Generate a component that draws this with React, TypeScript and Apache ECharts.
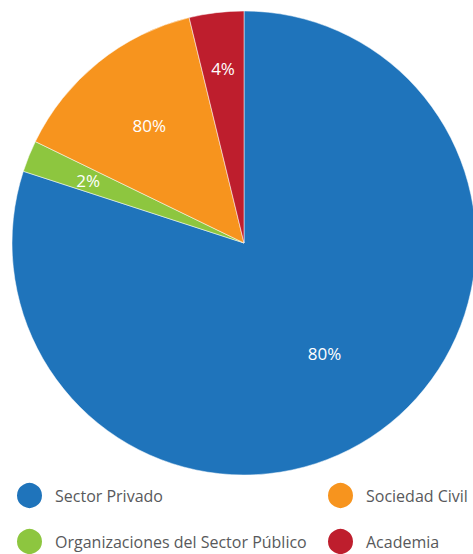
import React, { useEffect, useRef } from "react";
import * as echarts from "echarts";

const categories = ["Sector Privado", "Organizaciones del Sector Público", "Sociedad Civil", "Academia"];
const values = [80, 2.2, 14, 3.8];
const labelTexts = ["80%", "2%", "80%", "4%"];
const colors = ["#1F74BB", "#8DC63F", "#F7941E", "#BE1E2D"];
// radial distance of each label from the centre (px)
const labelRadii = [134, 165, 148, 173];
// legend grid slots: [left, top]
const legendSlots = [
  [15, 481],
  [15, 527],
  [326, 481],
  [326, 527],
];

export default function App() {
  const ref = useRef<HTMLDivElement>(null);
  useEffect(() => {
    if (!ref.current) return;
    const chart = echarts.init(ref.current, undefined, { renderer: "svg" });
    const center = [244, 243];
    const mainData = categories.map((name, i) => ({
      name,
      value: values[i],
      itemStyle: { color: colors[i] },
    }));
    const labelSeries = categories.map((_, k) => ({
      type: "pie" as const,
      center,
      radius: [labelRadii[k] - 10, labelRadii[k] + 10],
      startAngle: 90,
      clockwise: true,
      silent: true,
      legendHoverLink: false,
      itemStyle: { color: "transparent", borderWidth: 0 },
      emphasis: { disabled: true },
      labelLine: { show: false },
      data: categories.map((name, i) => ({
        name,
        value: values[i],
        itemStyle: { color: "rgba(0,0,0,0)" },
        label: {
          show: i === k,
          position: "inside",
          formatter: labelTexts[i],
          color: "#ffffff",
          fontSize: 17,
          fontFamily: "Open Sans",
        },
      })),
    }));
    const legends = categories.map((name, i) => ({
      data: [name],
      left: legendSlots[i][0],
      top: legendSlots[i][1],
      padding: 0,
      icon: "circle",
      itemWidth: 27,
      itemHeight: 27,
      selectedMode: false,
      textStyle: { color: "#58595B", fontSize: 16, fontFamily: "Open Sans", padding: [0, 0, 0, 7] },
    }));
    chart.setOption({
      animation: false,
      legend: legends,
      series: [
        {
          type: "pie",
          center,
          radius: [0, 232],
          startAngle: 90,
          clockwise: true,
          label: { show: false },
          labelLine: { show: false },
          itemStyle: { borderColor: "#ffffff", borderWidth: 0.5 },
          emphasis: { disabled: true },
          data: mainData,
        },
        ...labelSeries,
      ],
    });
    return () => chart.dispose();
  }, []);
  return (
    <div
      ref={ref}
      style={{ position: "fixed", left: 0, top: 0, width: 473, height: 554, background: "#ffffff" }}
    />
  );
}
